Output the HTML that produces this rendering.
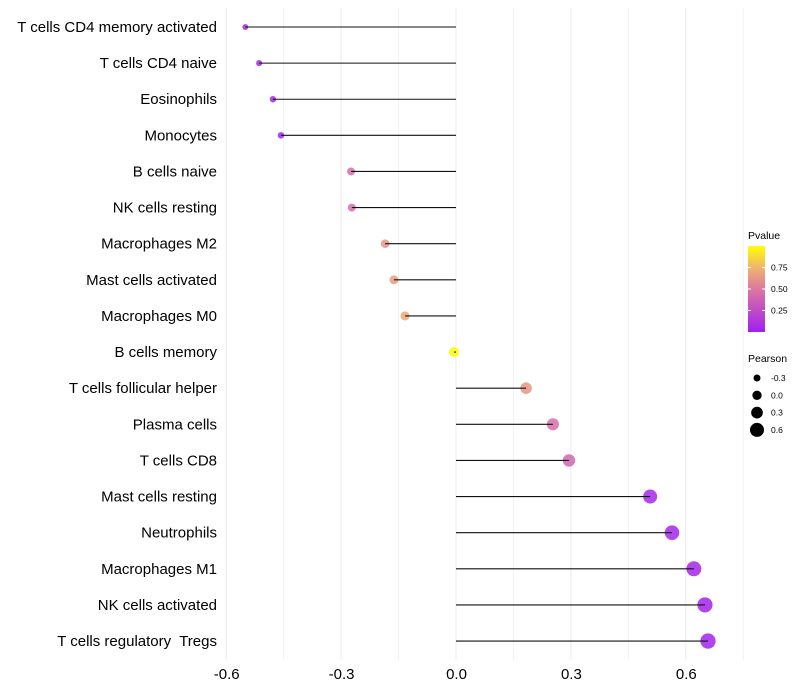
<!DOCTYPE html>
<html><head><meta charset="utf-8"><style>
body{margin:0;background:#fff}
svg{display:block;font-family:"Liberation Sans",sans-serif}
text{white-space:pre}
</style></head><body>
<svg id="chart" width="800" height="700"></svg>
<script>
const categories=["T cells CD4 memory activated","T cells CD4 naive","Eosinophils","Monocytes","B cells naive","NK cells resting","Macrophages M2","Mast cells activated","Macrophages M0","B cells memory","T cells follicular helper","Plasma cells","T cells CD8","Mast cells resting","Neutrophils","Macrophages M1","NK cells activated","T cells regulatory  Tregs"];
const pearson=[-0.55,-0.514,-0.478,-0.457,-0.274,-0.272,-0.185,-0.162,-0.133,-0.005,0.183,0.253,0.295,0.507,0.564,0.621,0.65,0.658];
const pvalues=[0.03,0.03,0.04,0.05,0.45,0.45,0.62,0.66,0.7,0.99,0.62,0.45,0.4,0.05,0.04,0.03,0.02,0.02];
const xTicks=[-0.6,-0.3,0.0,0.3,0.6];
const xTickLabels=["-0.6","-0.3","0.0","0.3","0.6"];
const cbTicks=[0.25,0.5,0.75];
const sizeLegend=[-0.3,0,0.3,0.6];

const svg=document.getElementById('chart');
const NS="http://www.w3.org/2000/svg";
function mk(t,a,p){const e=document.createElementNS(NS,t);for(const k in a)e.setAttribute(k,a[k]);(p||svg).appendChild(e);return e;}
const x=v=>456+v*383;
const y=i=>27+i*36.12;
const r=v=>3.9+(v+0.3)*3.9;
function color(p){
  const stops=[[0,[160,32,240]],[0.5,[220,120,160]],[0.75,[240,180,110]],[1,[255,255,0]]];
  for(let i=1;i<stops.length;i++){if(p<=stops[i][0]){const a=stops[i-1],b=stops[i],t=(p-a[0])/(b[0]-a[0]);
    return 'rgb('+a[1].map((c,j)=>Math.round(c+(b[1][j]-c)*t)).join(',')+')';}}
  return 'rgb(255,255,0)';
}
const grid=mk('g',{});
for(let v=-0.6;v<=0.751;v+=0.15){mk('line',{x1:x(v),x2:x(v),y1:8,y2:660,stroke:'#ebebeb','stroke-width':Math.abs(Math.round(v/0.3)*0.3-v)<1e-6?1:0.6},grid);}
xTicks.forEach((v,i)=>{const t=mk('text',{x:x(v)+0.5,y:679,'text-anchor':'middle','font-size':15,fill:'#000'});t.textContent=xTickLabels[i];
});
categories.forEach((c,i)=>{
  const t=mk('text',{x:217,y:y(i)+5,'text-anchor':'end','font-size':15,fill:'#000'});t.textContent=c;
  
  const d=mk('circle',{cx:x(pearson[i]),cy:y(i),r:r(pearson[i]),fill:color(pvalues[i]),'fill-opacity':0.85});
  
  const l=mk('line',{x1:x(0),x2:x(pearson[i]),y1:y(i),y2:y(i),stroke:'#111','stroke-width':1.1});
  
});
const lg=mk('g',{});
const defs=mk('defs',{});const grad=mk('linearGradient',{id:'g1',x1:0,y1:1,x2:0,y2:0},defs);
[0,0.25,0.5,0.75,1].forEach(o=>mk('stop',{offset:o,'stop-color':color(o)},grad));
let tt=mk('text',{x:748,y:239,'font-size':10.5},lg);tt.textContent='Pvalue';
const cb0=332,cb1=246;const cy=p=>cb0+(cb1-cb0)*p;
mk('rect',{x:748,y:cb1,width:17,height:cb0-cb1,fill:'url(#g1)'},lg);
cbTicks.forEach(v=>{mk('line',{x1:748,x2:751,y1:cy(v),y2:cy(v),stroke:'#fff'},lg);mk('line',{x1:762,x2:765,y1:cy(v),y2:cy(v),stroke:'#fff'},lg);
  const t=mk('text',{x:771,y:cy(v)+3,'font-size':8.5},lg);t.textContent=v.toFixed(2);});
const sg=mk('g',{});
tt=mk('text',{x:748,y:362,'font-size':10.5},sg);tt.textContent='Pearson';
sizeLegend.forEach((v,i)=>{const yy=378+i*17.3;mk('circle',{cx:757,cy:yy,r:r(v)-0.4,fill:'#000'},sg);
  const t=mk('text',{x:771,y:yy+3,'font-size':8.5},sg);t.textContent=v.toFixed(1);});
</script>
</body></html>
